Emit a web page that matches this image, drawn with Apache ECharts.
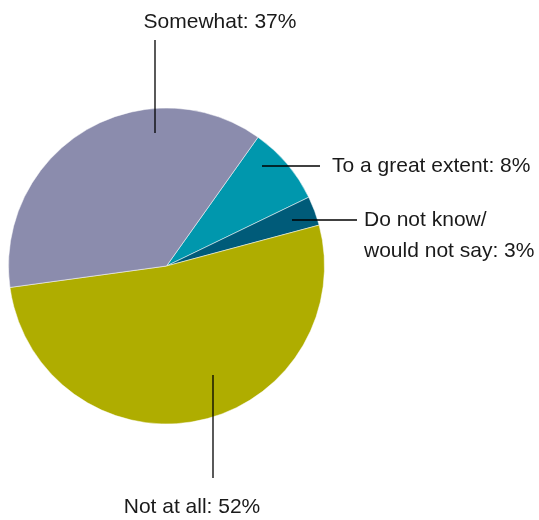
<!DOCTYPE html>
<html>
<head>
<meta charset="utf-8">
<script src="https://cdn.jsdelivr.net/npm/echarts@6/dist/echarts.min.js"></script>
<style>
  html, body { margin: 0; padding: 0; background: #fff; }
  #chart { width: 539px; height: 520px; }
</style>
</head>
<body>
<div id="chart"></div>
<script>
// Survey response shares, listed clockwise from the upper right
const categories = ['To a great extent', 'Do not know/\nwould not say', 'Not at all', 'Somewhat'];
const values = [8, 3, 52, 37];
const colors = ['#0097ad', '#005b79', '#afad00', '#8b8cad'];

// Where each label sits and how its leader line runs
const labelPlacement = [
  { x: 332, y: 166, align: 'left', line: [[262, 166], [320, 166]] },
  { x: 364, y: 236, align: 'left', line: [[292, 220], [357, 220]] },
  { x: 192, y: 507, align: 'center', line: [[213, 375], [213, 478]] },
  { x: 220, y: 22, align: 'center', line: [[155, 133], [155, 40]] }
];

const data = categories.map((c, i) => ({ name: c, value: values[i], itemStyle: { color: colors[i] } }));
const pieGeometry = { center: [166.5, 266], radius: 158, startAngle: 54.6, clockwise: true };

const chart = echarts.init(document.getElementById('chart'), null, { renderer: 'canvas' });
chart.setOption({
  animation: false,
  series: [
    // the slices
    Object.assign({
      type: 'pie',
      z: 2,
      silent: true,
      itemStyle: { borderColor: '#ffffff', borderWidth: 0.5 },
      label: { show: false },
      labelLine: { show: false },
      data: data
    }, pieGeometry),
    // labels and leader lines, stacked over the slices
    Object.assign({
      type: 'pie',
      z: 3,
      silent: true,
      itemStyle: { color: 'rgba(0,0,0,0)', borderWidth: 0 },
      label: {
        show: true,
        formatter: p => p.name + ': ' + p.value + '%',
        fontFamily: 'Liberation Sans',
        fontSize: 21,
        lineHeight: 31,
        color: '#1a1a1a',
        overflow: 'none',
        width: 300
      },
      labelLine: { show: true, lineStyle: { color: '#000', width: 1.3 } },
      labelLayout: params => {
        const p = labelPlacement[params.dataIndex];
        return {
          x: p.x, y: p.y, align: p.align, verticalAlign: 'middle',
          labelLinePoints: p.line.concat([p.line[p.line.length - 1]])
        };
      },
      data: values.map((v, i) => ({ name: categories[i], value: v }))
    }, pieGeometry)
  ]
});
</script>
</body>
</html>
